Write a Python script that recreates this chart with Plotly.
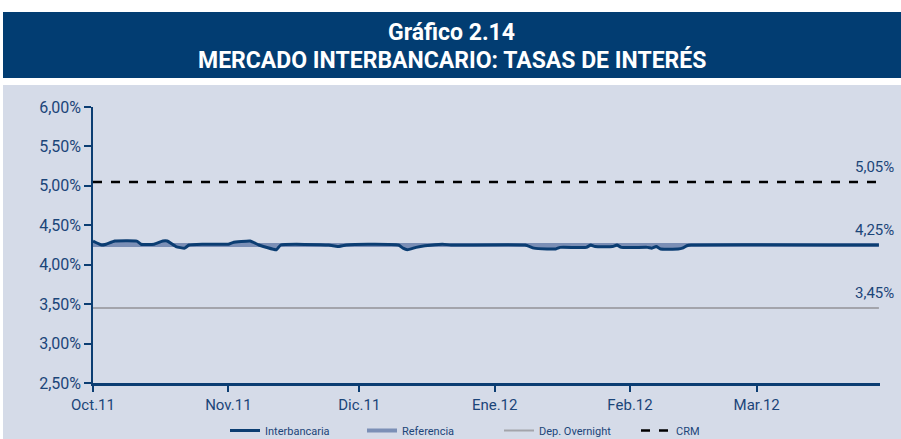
import plotly.graph_objects as go

# ---- data ----
ib_dates = ["2011-10-01", "2011-10-03", "2011-10-04", "2011-10-06", "2011-10-11", "2011-10-12",
            "2011-10-15", "2011-10-17", "2011-10-18", "2011-10-20", "2011-10-22", "2011-10-23",
            "2011-10-26", "2011-11-01", "2011-11-02", "2011-11-06", "2011-11-08", "2011-11-12",
            "2011-11-13", "2011-11-24", "2011-11-26", "2011-11-28", "2011-12-03", "2011-12-10",
            "2011-12-11", "2011-12-12", "2011-12-14", "2011-12-16", "2011-12-20", "2011-12-22",
            "2012-01-08", "2012-01-10", "2012-01-13", "2012-01-15", "2012-01-16", "2012-01-22",
            "2012-01-23", "2012-01-24", "2012-01-28", "2012-01-29", "2012-01-30", "2012-02-05",
            "2012-02-06", "2012-02-07", "2012-02-08", "2012-02-12", "2012-02-13", "2012-02-14",
            "2012-02-15", "2012-03-29"]
interbancaria = [4.30, 4.25, 4.26, 4.30, 4.30, 4.26,
                 4.26, 4.30, 4.30, 4.23, 4.21, 4.25,
                 4.26, 4.26, 4.28, 4.30, 4.25, 4.19,
                 4.25, 4.25, 4.23, 4.25, 4.26, 4.25,
                 4.21, 4.19, 4.22, 4.24, 4.26, 4.25,
                 4.25, 4.21, 4.20, 4.20, 4.22, 4.22,
                 4.25, 4.23, 4.23, 4.25, 4.22, 4.22,
                 4.21, 4.23, 4.20, 4.20, 4.21, 4.24,
                 4.25, 4.25]
const_dates = ["2011-10-01", "2012-03-29"]
referencia = [4.25, 4.25]
dep_overnight = [3.45, 3.45]
crm = [5.05, 5.05]

tick_dates = ["2011-10-01", "2011-11-01", "2011-12-01", "2012-01-01", "2012-02-01", "2012-03-01"]
tick_labels = ["Oct.11", "Nov.11", "Dic.11", "Ene.12", "Feb.12", "Mar.12"]
y_ticks = [2.5, 3.0, 3.5, 4.0, 4.5, 5.0, 5.5, 6.0]
y_tick_labels = ["2,50%", "3,00%", "3,50%", "4,00%", "4,50%", "5,00%", "5,50%", "6,00%"]
end_labels = [(5.05, "5,05%"), (4.25, "4,25%"), (3.45, "3,45%")]

# ---- style ----
FONT = "Roboto, sans-serif"
NAVY = "#0b3d72"
TXT = "#1b4579"
REF = "#7b8fb6"
GRAY = "#a3a4ab"
BANNER = "#023d72"
BG = "#d5dbe8"

fig = go.Figure()
fig.add_trace(go.Scatter(x=const_dates, y=dep_overnight, mode="lines", name="Dep. Overnight",
                         line=dict(color=GRAY, width=2), legendrank=3))
fig.add_trace(go.Scatter(x=const_dates, y=crm, mode="lines", name="CRM",
                         line=dict(color="black", width=2.5, dash="dash"), legendrank=4))
fig.add_trace(go.Scatter(x=const_dates, y=referencia, mode="lines", name="Referencia",
                         line=dict(color=REF, width=4), legendrank=2))
fig.add_trace(go.Scatter(x=ib_dates, y=interbancaria, mode="lines", showlegend=False,
                         line=dict(color=REF, width=0, shape="spline", smoothing=0.4),
                         fill="tonexty", fillcolor=REF, hoverinfo="skip"))
fig.add_trace(go.Scatter(x=ib_dates, y=interbancaria, mode="lines", name="Interbancaria",
                         line=dict(color=NAVY, width=3, shape="spline", smoothing=0.4), legendrank=1))

L, R, T, B = 93, 21, 107, 56
W, H = 901, 439
pw, ph = W - L - R, H - T - B


def px_x(p):
    return (p - L) / pw


def px_y(p):
    return (H - B - p) / ph


shapes = [
    dict(type="rect", xref="paper", yref="paper", x0=px_x(3), x1=px_x(905), y0=px_y(78), y1=px_y(12),
         fillcolor=BANNER, line=dict(width=0), layer="below"),
    dict(type="rect", xref="paper", yref="paper", x0=px_x(3), x1=px_x(905), y0=px_y(445), y1=px_y(85),
         fillcolor=BG, line=dict(width=0), layer="below"),
]

annotations = [
    dict(xref="paper", yref="paper", x=0.5 * (px_x(3) + px_x(901)), y=px_y(33), text="<b>Gráfico 2.14</b>",
         showarrow=False, font=dict(family=FONT, size=23, color="white"), xanchor="center", yanchor="middle"),
    dict(xref="paper", yref="paper", x=0.5 * (px_x(3) + px_x(901)), y=px_y(60),
         text="<b>MERCADO INTERBANCARIO: TASAS DE INTERÉS</b>",
         showarrow=False, font=dict(family=FONT, size=23, color="white"), xanchor="center", yanchor="middle"),
]
for val, lab in end_labels:
    annotations.append(dict(xref="paper", yref="y", x=px_x(896), y=val, yshift=15, text=lab,
                            showarrow=False, xanchor="right", yanchor="middle",
                            font=dict(family=FONT, size=15, color=TXT)))

fig.update_layout(
    width=W, height=H,
    margin=dict(l=L, r=R, t=T, b=B, autoexpand=False),
    paper_bgcolor="white", plot_bgcolor="rgba(0,0,0,0)",
    font=dict(family=FONT, color=TXT),
    shapes=shapes, annotations=annotations,
    showlegend=True,
    legend=dict(orientation="h", x=px_x(225), y=px_y(416), xanchor="left", yanchor="top",
                font=dict(family=FONT, size=11, color=TXT), bgcolor="rgba(0,0,0,0)",
                itemwidth=30, entrywidth=92, traceorder="normal"),
    xaxis=dict(type="date", range=["2011-10-01", "2012-03-29 06:00"], tickvals=tick_dates,
               ticktext=tick_labels, showgrid=False, zeroline=False, showline=True, linecolor=NAVY,
               linewidth=2.5, ticks="outside", ticklen=6, tickcolor=NAVY, tickwidth=1.5,
               tickfont=dict(family=FONT, size=15, color=TXT)),
    yaxis=dict(range=[2.5, 6.0], tickvals=y_ticks, ticktext=y_tick_labels, showgrid=False,
               zeroline=False, showline=True, linecolor=NAVY, linewidth=1.5, ticks="outside", ticklen=7,
               tickcolor=NAVY, tickwidth=1.5, tickfont=dict(family=FONT, size=16, color=TXT)),
)

fig.write_html("out.html", config={"displayModeBar": False},
               post_script="document.body.style.margin='0px';")
